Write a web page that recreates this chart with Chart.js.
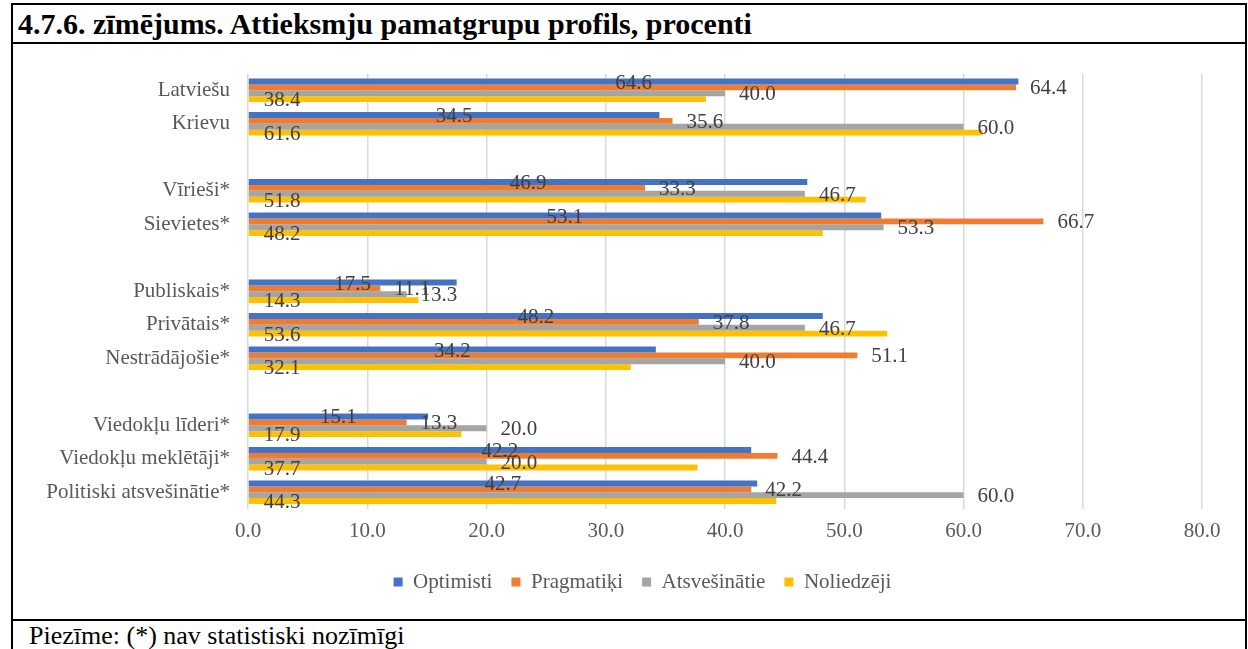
<!DOCTYPE html>
<html>
<head>
<meta charset="utf-8">
<script src="https://cdn.jsdelivr.net/npm/chart.js@4.4.1/dist/chart.umd.min.js"></script>
<style>
  html, body { margin: 0; padding: 0; background: #fff; }
  body { width: 1248px; height: 649px; position: relative; overflow: hidden; font-family: 'Liberation Serif', 'Times New Roman', serif; }
  .line { position: absolute; background: #000; }
  #title { position: absolute; left: 18px; top: 9px; font-weight: bold; font-size: 30px; line-height: 30px; color: #000; white-space: nowrap; }
  #note { position: absolute; left: 29px; top: 623px; font-size: 26px; line-height: 26px; color: #000; white-space: nowrap; }
  #wrap { position: absolute; left: 13px; top: 43px; width: 1232px; height: 576px; }
</style>
</head>
<body>
<div class="line" style="left:11px; top:3px; width:1236px; height:2px;"></div>
<div class="line" style="left:11px; top:3px; width:2px; height:646px;"></div>
<div class="line" style="left:1245px; top:3px; width:2px; height:646px;"></div>
<div class="line" style="left:11px; top:42px; width:1236px; height:2px;"></div>
<div class="line" style="left:11px; top:619px; width:1236px; height:2px;"></div>
<div id="title">4.7.6. zīmējums. Attieksmju pamatgrupu profils, procenti</div>
<div id="wrap"><canvas id="c" width="1232" height="576"></canvas></div>
<div id="note">Piezīme: (*) nav statistiski nozīmīgi</div>
<script>
const categories = ['Latviešu', 'Krievu', '', 'Vīrieši*', 'Sievietes*', '', 'Publiskais*', 'Privātais*', 'Nestrādājošie*', '', 'Viedokļu līderi*', 'Viedokļu meklētāji*', 'Politiski atsvešinātie*'];
const optimisti    = [64.6, 34.5, null, 46.9, 53.1, null, 17.5, 48.2, 34.2, null, 15.1, 42.2, 42.7];
const pragmatiki   = [64.4, 35.6, null, 33.3, 66.7, null, 11.1, 37.8, 51.1, null, 13.3, 44.4, 42.2];
const atsvesinatie = [40.0, 60.0, null, 46.7, 53.3, null, 13.3, 46.7, 40.0, null, 20.0, 20.0, 60.0];
const noliedzeji   = [38.4, 61.6, null, 51.8, 48.2, null, 14.3, 53.6, 32.1, null, 17.9, 37.7, 44.3];
const seriesNames  = ['Optimisti', 'Pragmatiķi', 'Atsvešinātie', 'Noliedzēji'];
const xTicks = [0, 10, 20, 30, 40, 50, 60, 70, 80];

const colors = ['#4472C4', '#ED7D31', '#A5A5A5', '#FFC000'];
const FONT = "'Liberation Serif', 'Times New Roman', serif";

const labelPlugin = {
  id: 'dataLabels',
  afterDatasetsDraw(chart) {
    const ctx = chart.ctx;
    ctx.save();
    ctx.font = '21px ' + FONT;
    ctx.fillStyle = '#404040';
    ctx.textBaseline = 'middle';
    chart.data.datasets.forEach((ds, i) => {
      const meta = chart.getDatasetMeta(i);
      meta.data.forEach((bar, j) => {
        const v = ds.data[j];
        if (v === null || v === undefined) return;
        const txt = v.toFixed(1);
        const y = bar.y + 1.5;
        let x;
        if (i === 0) { ctx.textAlign = 'center'; x = (bar.base + bar.x) / 2; }
        else if (i === 3) { ctx.textAlign = 'left'; x = bar.base + 15; }
        else { ctx.textAlign = 'left'; x = bar.x + 14; }
        ctx.fillText(txt, x, y);
      });
    });
    ctx.restore();
  }
};

// centre the legend on the whole chart frame (as the spreadsheet does)
const legendShift = {
  id: 'legendShift',
  afterLayout(chart) {
    const l = chart.legend;
    if (l) { l.left += 35; l.right += 35; }
  }
};

const dataSeries = [optimisti, pragmatiki, atsvesinatie, noliedzeji];

new Chart(document.getElementById('c'), {
  type: 'bar',
  data: {
    labels: categories,
    datasets: dataSeries.map((d, i) => ({
      label: seriesNames[i],
      data: d,
      backgroundColor: colors[i],
      borderWidth: 0,
      categoryPercentage: 0.7,
      barPercentage: 1.0
    }))
  },
  options: {
    indexAxis: 'y',
    responsive: false,
    animation: false,
    devicePixelRatio: 1,
    layout: { padding: { left: 0, right: 43, top: 27, bottom: 16.5 } },
    scales: {
      x: {
        min: 0, max: 80,
        afterBuildTicks(scale) { scale.ticks = xTicks.map(v => ({ value: v })); },
        ticks: {
          callback: v => Number(v).toFixed(1),
          font: { family: FONT, size: 21 },
          color: '#595959',
          padding: 10,
          maxRotation: 0
        },
        grid: { color: '#d9d9d9', lineWidth: 1.5, drawTicks: false },
        border: { display: false },
        afterFit(scale) { scale.height = 43.5; }
      },
      y: {
        ticks: {
          font: { family: FONT, size: 21 },
          color: '#595959',
          padding: 18,
          autoSkip: false
        },
        grid: { display: false, drawTicks: false },
        border: { display: false },
        afterFit(scale) { scale.width = 235; }
      }
    },
    plugins: {
      legend: {
        position: 'bottom',
        labels: {
          boxWidth: 9, boxHeight: 9,
          padding: 19,
          color: '#595959',
          font: { family: FONT, size: 21 }
        }
      },
      tooltip: { enabled: false }
    }
  },
  plugins: [labelPlugin, legendShift]
});
</script>
</body>
</html>
